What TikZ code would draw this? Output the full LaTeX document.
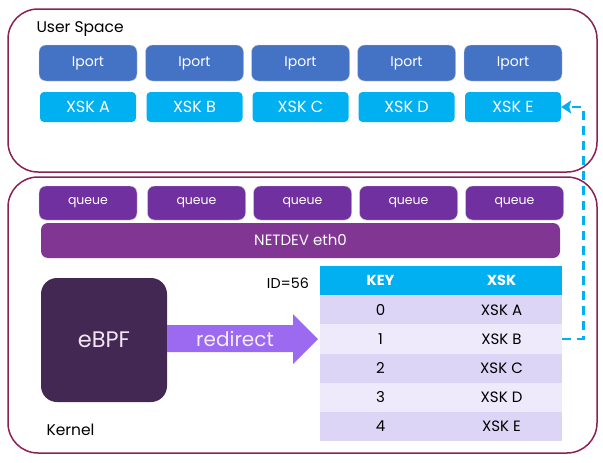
\documentclass[tikz,border=0pt]{standalone}
\usepackage{fontspec}
\setmainfont{Poppins}
\usetikzlibrary{arrows.meta}

\definecolor{frame}{RGB}{140,32,82}
\definecolor{portblue}{RGB}{68,114,196}
\definecolor{sockblue}{RGB}{0,176,240}
\definecolor{queuepurple}{RGB}{112,48,160}
\definecolor{devpurple}{RGB}{128,54,146}
\definecolor{bpfdark}{RGB}{67,40,84}
\definecolor{redirpurple}{RGB}{155,106,240}
\definecolor{rowdark}{RGB}{221,213,246}
\definecolor{rowlight}{RGB}{238,234,251}

\tikzset{
  area/.style={draw=frame, line width=1.5pt, rounded corners=30pt},
  inbox/.style={rounded corners=7pt, text=white, inner sep=0pt},
  portbox/.style={inbox, fill=portblue, draw=gray!40, minimum width=98pt, minimum height=36pt, font=\fontsize{14}{16}\selectfont},
  sockbox/.style={inbox, fill=sockblue, rounded corners=4pt, minimum width=96pt, minimum height=30pt, font=\fontsize{16}{18}\selectfont},
  queuebox/.style={inbox, fill=queuepurple, draw=gray!40, minimum width=98pt, minimum height=34pt, font=\fontsize{12.5}{14}\selectfont},
  cell/.style={minimum width=121pt, minimum height=29.2pt, inner sep=0pt, font=\fontsize{15}{17}\selectfont},
  label/.style={font=\fontsize{15}{17}\selectfont},
  link/.style={draw=sockblue, line width=2.6pt, dash pattern=on 9pt off 6pt, -{Stealth[length=10pt,width=13pt,inset=2pt]}},
}

\begin{document}
\begin{tikzpicture}[x=1pt,y=-1pt]
\useasboundingbox (0,0) rectangle (603,463);
% outer areas
\node[area, minimum width=589pt, minimum height=163pt] (user) at (302.5,90.5) {};
\node[area, minimum width=589pt, minimum height=276pt] (kernel) at (302.5,315) {};
\node[label, anchor=west, font=\fontsize{15.5}{17}\selectfont] (user-text) at (33,29) {User Space};
\node[label, anchor=west, font=\fontsize{15.5}{17}\selectfont] (kernel-text) at (43,430) {Kernel};

% user space sockets
\foreach \n/\x in {A/88,B/194.5,C/300.5,D/406.5,E/513}{
  \node[portbox] (port-\n) at (\x,63) {Iport};
  \node[sockbox] (sock-\n) at (\x,107) {XSK \n};
}

% netdev
\foreach \n/\x in {A/88,B/196.5,C/302.5,D/408.5,E/514.5}
  \node[queuebox] (queue-\n) at (\x,203) {queue};
\node[inbox, fill=devpurple, minimum width=519pt, minimum height=35pt, font=\fontsize{15}{17}\selectfont] (netdev) at (300.5,240.5) {NETDEV eth0};

% ebpf program and redirect
\node[inbox, fill=bpfdark, rounded corners=16pt, minimum width=126pt, minimum height=124pt,
  text=white!90!violet, font=\fontsize{22.5}{26}\selectfont] (ebpf) at (104,340) {eBPF};
\fill[redirpurple] (167,325) -- (293,325) -- (293,314) -- (318,339) -- (293,364) -- (293,352) -- (167,352) -- cycle;
\node[text=white!92!violet, font=\fontsize{20}{22}\selectfont] (redirect) at (235,338.5) {redirect};

% xskmap
\node[label, font=\fontsize{14.3}{16}\selectfont] (map-id) at (288,283) {ID=56};
\node[cell, fill=sockblue, text=white, font=\fontsize{14.5}{16}\selectfont\bfseries] (map-key) at (380.5,280.6) {KEY};
\node[cell, fill=sockblue, text=white, font=\fontsize{14.5}{16}\selectfont\bfseries] (map-sock) at (501.5,280.6) {XSK};
\foreach \k/\v [count=\i] in {0/A,1/B,2/C,3/D,4/E}{
  \pgfmathsetmacro\rowy{280.6+29.2*\i}
  \ifodd\i \def\rowcol{rowdark}\else\def\rowcol{rowlight}\fi
  \node[cell, fill=\rowcol] (map-key-\k) at (380.5,\rowy) {\k};
  \node[cell, fill=\rowcol] (map-sock-\k) at (501.5,\rowy) {XSK \v};
}

\draw[link] (map-sock-1.east) -- ++(21,0) |- (sock-E.east);
\end{tikzpicture}
\end{document}
